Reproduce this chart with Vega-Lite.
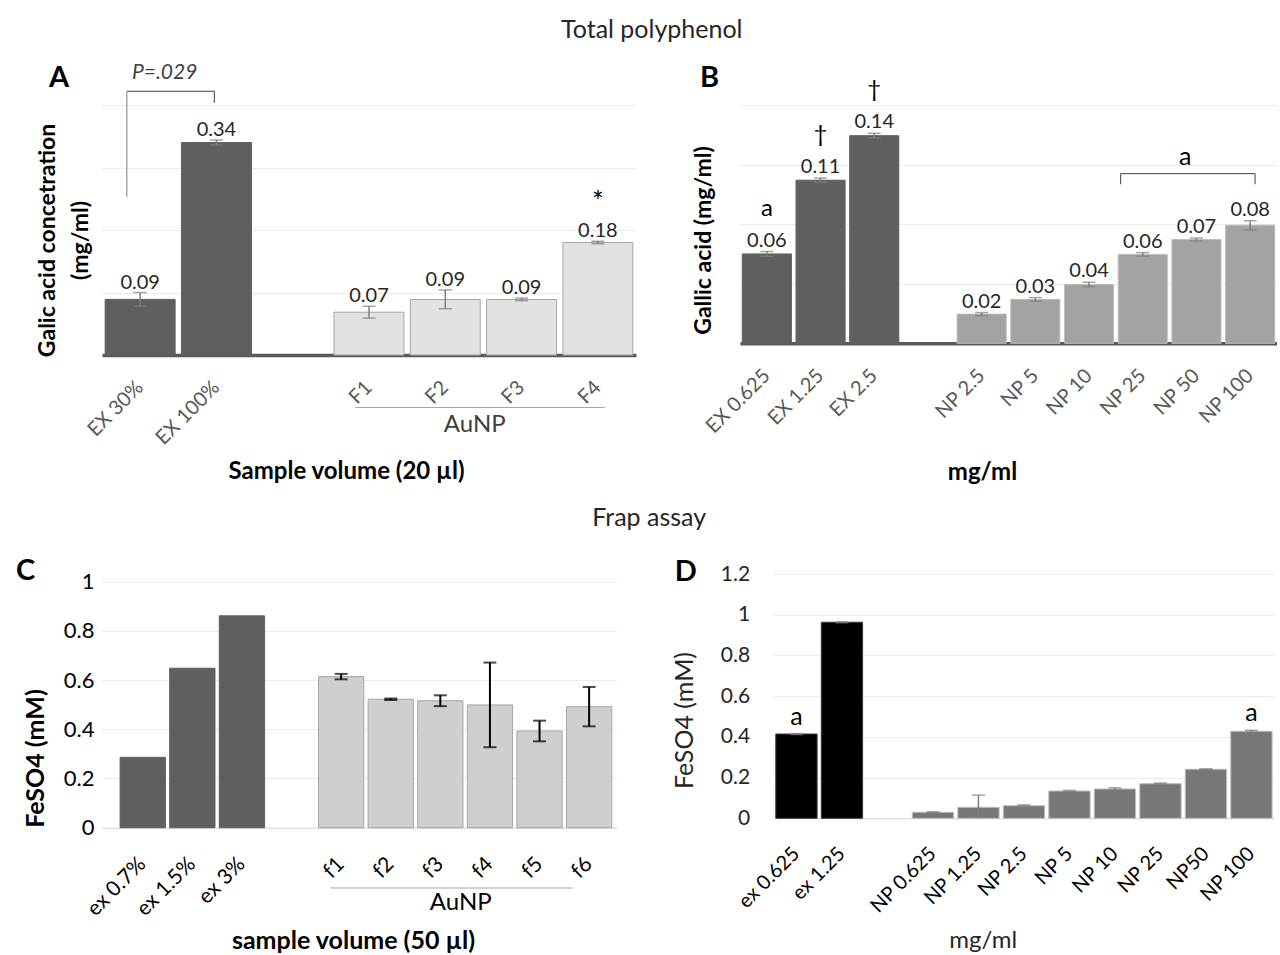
{
  "$schema": "https://vega.github.io/schema/vega-lite/v6.json",
  "padding": {"left": 16, "top": 17, "right": 0, "bottom": 0},
  "config": {
    "font": "Lato",
    "view": {"stroke": null},
    "axis": {"labelFont": "Lato", "titleFont": "Lato"},
    "title": {"font": "Lato"}
  },
  "datasets": {
    "A": [
      {"cat": "EX 30%", "grp": "ex", "value": 0.089, "lo": 0.078, "hi": 0.1, "label": "0.09"},
      {"cat": "EX 100%", "grp": "ex", "value": 0.34, "lo": 0.336, "hi": 0.344, "label": "0.34"},
      {"cat": "F1", "grp": "np", "value": 0.0685, "lo": 0.059, "hi": 0.078, "label": "0.07"},
      {"cat": "F2", "grp": "np", "value": 0.0888, "lo": 0.074, "hi": 0.104, "label": "0.09"},
      {"cat": "F3", "grp": "np", "value": 0.0888, "lo": 0.087, "hi": 0.091, "label": "0.09"},
      {"cat": "F4", "grp": "np", "value": 0.18, "lo": 0.178, "hi": 0.182, "label": "0.18", "sym": "*"}
    ],
    "B": [
      {"cat": "EX 0.625", "grp": "ex", "value": 0.06, "lo": 0.0584, "hi": 0.0616, "label": "0.06", "sym": "a"},
      {"cat": "EX 1.25", "grp": "ex", "value": 0.1095, "lo": 0.108, "hi": 0.111, "label": "0.11", "sym": "†"},
      {"cat": "EX 2.5", "grp": "ex", "value": 0.1394, "lo": 0.138, "hi": 0.141, "label": "0.14", "sym": "†"},
      {"cat": "NP 2.5", "grp": "np", "value": 0.0196, "lo": 0.0186, "hi": 0.0206, "label": "0.02"},
      {"cat": "NP 5", "grp": "np", "value": 0.0295, "lo": 0.0283, "hi": 0.0307, "label": "0.03"},
      {"cat": "NP 10", "grp": "np", "value": 0.0395, "lo": 0.038, "hi": 0.041, "label": "0.04"},
      {"cat": "NP 25", "grp": "np", "value": 0.0597, "lo": 0.0585, "hi": 0.0609, "label": "0.06"},
      {"cat": "NP 50", "grp": "np", "value": 0.0697, "lo": 0.0687, "hi": 0.0707, "label": "0.07"},
      {"cat": "NP 100", "grp": "np", "value": 0.0793, "lo": 0.0763, "hi": 0.0823, "label": "0.08"}
    ],
    "C": [
      {"cat": "ex 0.7%", "grp": "ex", "value": 0.286},
      {"cat": "ex 1.5%", "grp": "ex", "value": 0.648},
      {"cat": "ex 3%", "grp": "ex", "value": 0.861},
      {"cat": "f1", "grp": "np", "value": 0.614, "lo": 0.603, "hi": 0.625},
      {"cat": "f2", "grp": "np", "value": 0.522, "lo": 0.519, "hi": 0.525},
      {"cat": "f3", "grp": "np", "value": 0.516, "lo": 0.494, "hi": 0.538},
      {"cat": "f4", "grp": "np", "value": 0.499, "lo": 0.327, "hi": 0.671},
      {"cat": "f5", "grp": "np", "value": 0.393, "lo": 0.351, "hi": 0.435},
      {"cat": "f6", "grp": "np", "value": 0.492, "lo": 0.412, "hi": 0.572}
    ],
    "D": [
      {"cat": "ex 0.625", "grp": "ex", "value": 0.414, "lo": 0.412, "hi": 0.416, "sym": "a"},
      {"cat": "ex 1.25", "grp": "ex", "value": 0.963, "lo": 0.961, "hi": 0.965},
      {"cat": "NP 0.625", "grp": "np", "value": 0.0295, "lo": 0.027, "hi": 0.032},
      {"cat": "NP 1.25", "grp": "np", "value": 0.054, "lo": -0.006, "hi": 0.114},
      {"cat": "NP 2.5", "grp": "np", "value": 0.062, "lo": 0.058, "hi": 0.066},
      {"cat": "NP 5", "grp": "np", "value": 0.134, "lo": 0.131, "hi": 0.137},
      {"cat": "NP 10", "grp": "np", "value": 0.144, "lo": 0.138, "hi": 0.15},
      {"cat": "NP 25", "grp": "np", "value": 0.17, "lo": 0.167, "hi": 0.173},
      {"cat": "NP50", "grp": "np", "value": 0.241, "lo": 0.239, "hi": 0.243},
      {"cat": "NP 100", "grp": "np", "value": 0.4275, "lo": 0.4225, "hi": 0.4325, "sym": "a"}
    ],
    "one": [{}]
  },
  "bounds": "flush",
  "spacing": 469,
  "resolve": {"scale": {"fill": "independent", "stroke": "independent"}},
  "vconcat": [
    {
      "title": {"text": "Total polyphenol", "fontSize": 25, "fontWeight": "normal", "color": "#262626", "anchor": "middle", "dx": -5, "offset": 19},
      "bounds": "flush",
      "spacing": 104,
      "resolve": {"scale": {"fill": "independent", "stroke": "independent"}},
      "hconcat": [
        {
          "width": 534, "height": 250,
          "title": {"text": "A", "anchor": "start", "frame": "group", "dx": -53, "fontSize": 29, "fontWeight": "bold", "color": "#000000", "offset": -31.5},
          "data": {"name": "A"},
          "encoding": {
            "x": {"field": "cat", "type": "nominal", "sort": null,
              "scale": {"domain": ["EX 30%", "EX 100%", " ", "F1", "F2", "F3", "F4"], "paddingInner": 0.083, "paddingOuter": 0.0415},
              "axis": {"title": "Sample volume (20 µl)", "titleFontSize": 24, "titleFontWeight": "bold", "titleColor": "#000000", "titleX": 244, "titleY": 116.5, "titleBaseline": "middle",
                "labelAngle": -45, "labelAlign": "right", "labelBaseline": "middle", "labelFontSize": 20, "labelColor": "#595959", "labelPadding": 29,
                "ticks": false, "domainColor": "#595959", "domainWidth": 3.5, "grid": false}}
          },
          "layer": [
            {"mark": {"type": "bar", "strokeWidth": 1},
             "encoding": {
               "y": {"field": "value", "type": "quantitative", "scale": {"domain": [0, 0.4], "nice": false},
                 "axis": {"title": ["Galic acid concetration", "(mg/ml)"], "titleFontSize": 23, "titleFontWeight": "bold", "titleColor": "#000000", "titleX": -54.5, "titleY": 135, "titleAlign": "center", "titleBaseline": "middle", "titleLineHeight": 33,
                   "labels": false, "ticks": false, "domain": false, "grid": true, "gridColor": "#ebebeb", "values": [0, 0.05, 0.1, 0.15, 0.2, 0.25, 0.3, 0.35, 0.4]}},
               "fill": {"field": "grp", "type": "nominal", "scale": {"domain": ["ex", "np"], "range": ["#5f5f5f", "#e2e2e2"]}, "legend": null},
               "stroke": {"field": "grp", "type": "nominal", "scale": {"domain": ["ex", "np"], "range": ["#5f5f5f", "#a6a6a6"]}, "legend": null}
             }},
            {"mark": {"type": "rule", "color": "#7f7f7f", "strokeWidth": 1.5},
             "encoding": {"y": {"field": "lo", "type": "quantitative"}, "y2": {"field": "hi"}}},
            {"mark": {"type": "tick", "orient": "horizontal", "size": 13, "thickness": 1.5, "color": "#7f7f7f"},
             "encoding": {"y": {"field": "lo", "type": "quantitative"}}},
            {"mark": {"type": "tick", "orient": "horizontal", "size": 13, "thickness": 1.5, "color": "#7f7f7f"},
             "encoding": {"y": {"field": "hi", "type": "quantitative"}}},
            {"mark": {"type": "text", "fontSize": 20, "dy": -4, "baseline": "alphabetic", "color": "#262626"},
             "encoding": {"y": {"field": "hi", "type": "quantitative"}, "text": {"field": "label"}}},
            {"transform": [{"filter": "isValid(datum.sym)"}],
             "mark": {"type": "text", "fontSize": 28, "dy": -37, "baseline": "middle", "color": "#000000"},
             "encoding": {"y": {"field": "hi", "type": "quantitative"}, "text": {"field": "sym"}}},
            {"data": {"name": "one"}, "mark": {"type": "rule", "color": "#404040", "strokeWidth": 1},
             "encoding": {"x": {"datum": "EX 30%", "bandPosition": 0.31}, "x2": {"datum": "EX 100%", "bandPosition": 0.47}, "y": {"datum": 0.422}}},
            {"data": {"name": "one"}, "mark": {"type": "rule", "color": "#7f7f7f", "strokeWidth": 1},
             "encoding": {"x": {"datum": "EX 30%", "bandPosition": 0.31}, "y": {"datum": 0.422}, "y2": {"datum": 0.253}}},
            {"data": {"name": "one"}, "mark": {"type": "rule", "color": "#404040", "strokeWidth": 1},
             "encoding": {"x": {"datum": "EX 100%", "bandPosition": 0.47}, "y": {"datum": 0.422}, "y2": {"datum": 0.4035}}},
            {"data": {"name": "one"}, "mark": {"type": "text", "fontSize": 21, "fontStyle": "italic", "baseline": "middle", "color": "#404040"},
             "encoding": {"x": {"datum": "EX 30%", "bandPosition": 0.85}, "y": {"datum": 0.452}, "text": {"value": "P=.029"}}},
            {"data": {"name": "one"}, "mark": {"type": "rule", "color": "#a6a6a6", "strokeWidth": 1},
             "encoding": {"x": {"datum": "F1", "bandPosition": 0.3}, "x2": {"datum": "F4", "bandPosition": 0.6}, "y": {"datum": -0.084}}},
            {"data": {"name": "one"}, "mark": {"type": "text", "fontSize": 24, "baseline": "middle", "color": "#404040"},
             "encoding": {"x": {"datum": "F2", "bandPosition": 0.92}, "y": {"datum": -0.112}, "text": {"value": "AuNP"}}}
          ]
        },
        {
          "width": 537, "height": 238.3,
          "title": {"text": "B", "anchor": "start", "frame": "group", "dx": -40, "fontSize": 29, "fontWeight": "bold", "color": "#000000", "offset": -15},
          "data": {"name": "B"},
          "encoding": {
            "x": {"field": "cat", "type": "nominal", "sort": null,
              "scale": {"domain": ["EX 0.625", "EX 1.25", "EX 2.5", " ", "NP 2.5", "NP 5", "NP 10", "NP 25", "NP 50", "NP 100"], "paddingInner": 0.086, "paddingOuter": 0.043},
              "axis": {"title": "mg/ml", "titleFontSize": 24, "titleFontWeight": "bold", "titleColor": "#000000", "titleX": 242, "titleY": 128.7, "titleBaseline": "middle",
                "labelAngle": -45, "labelAlign": "right", "labelBaseline": "middle", "labelFontSize": 20, "labelColor": "#595959", "labelPadding": 29,
                "ticks": false, "domainColor": "#595959", "domainWidth": 3.5, "grid": false}}
          },
          "layer": [
            {"mark": {"type": "bar", "strokeWidth": 1},
             "encoding": {
               "y": {"field": "value", "type": "quantitative", "scale": {"domain": [0, 0.16], "nice": false},
                 "axis": {"title": "Gallic acid (mg/ml)", "titleFontSize": 23, "titleFontWeight": "bold", "titleColor": "#000000", "titleX": -37, "titleY": 135, "titleAlign": "center", "titleBaseline": "middle",
                   "labels": false, "ticks": false, "domain": false, "grid": true, "gridColor": "#ebebeb", "values": [0, 0.04, 0.08, 0.12, 0.16]}},
               "fill": {"field": "grp", "type": "nominal", "scale": {"domain": ["ex", "np"], "range": ["#5f5f5f", "#a3a3a3"]}, "legend": null},
               "stroke": {"field": "grp", "type": "nominal", "scale": {"domain": ["ex", "np"], "range": ["#5f5f5f", "#bdbdbd"]}, "legend": null}
             }},
            {"mark": {"type": "rule", "color": "#7f7f7f", "strokeWidth": 1.5},
             "encoding": {"y": {"field": "lo", "type": "quantitative"}, "y2": {"field": "hi"}}},
            {"mark": {"type": "tick", "orient": "horizontal", "size": 13, "thickness": 1.5, "color": "#7f7f7f"},
             "encoding": {"y": {"field": "lo", "type": "quantitative"}}},
            {"mark": {"type": "tick", "orient": "horizontal", "size": 13, "thickness": 1.5, "color": "#7f7f7f"},
             "encoding": {"y": {"field": "hi", "type": "quantitative"}}},
            {"mark": {"type": "text", "fontSize": 20, "dy": -5, "baseline": "alphabetic", "color": "#262626"},
             "encoding": {"y": {"field": "hi", "type": "quantitative"}, "text": {"field": "label"}}},
            {"transform": [{"filter": "isValid(datum.sym)"}],
             "mark": {"type": "text", "fontSize": 24, "dy": -43, "baseline": "middle", "color": "#000000"},
             "encoding": {"y": {"field": "hi", "type": "quantitative"}, "text": {"field": "sym"}}},
            {"data": {"name": "one"}, "mark": {"type": "rule", "color": "#404040", "strokeWidth": 1},
             "encoding": {"x": {"datum": "NP 25", "bandPosition": 0.05}, "x2": {"datum": "NP 100", "bandPosition": 0.6}, "y": {"datum": 0.1139}}},
            {"data": {"name": "one"}, "mark": {"type": "rule", "color": "#404040", "strokeWidth": 1},
             "encoding": {"x": {"datum": "NP 25", "bandPosition": 0.05}, "y": {"datum": 0.1139}, "y2": {"datum": 0.1068}}},
            {"data": {"name": "one"}, "mark": {"type": "rule", "color": "#404040", "strokeWidth": 1},
             "encoding": {"x": {"datum": "NP 100", "bandPosition": 0.6}, "y": {"datum": 0.1139}, "y2": {"datum": 0.1068}}},
            {"data": {"name": "one"}, "mark": {"type": "text", "fontSize": 25, "baseline": "middle", "color": "#000000"},
             "encoding": {"x": {"datum": "NP 50", "bandPosition": 0.27}, "y": {"datum": 0.125}, "text": {"value": "a"}}}
          ]
        }
      ]
    },
    {
      "title": {"text": "Frap assay", "fontSize": 25, "fontWeight": "normal", "color": "#262626", "anchor": "middle", "dx": 4, "offset": 26},
      "bounds": "flush",
      "spacing": 156.7,
      "resolve": {"scale": {"fill": "independent", "stroke": "independent"}},
      "hconcat": [
        {
          "width": 514.3, "height": 253.7,
          "title": {"text": "C", "anchor": "start", "frame": "group", "dx": -86, "fontSize": 29, "fontWeight": "bold", "color": "#000000", "offset": -15},
          "data": {"name": "C"},
          "encoding": {
            "x": {"field": "cat", "type": "nominal", "sort": null,
              "scale": {"domain": ["ex 0.7%", "ex 1.5%", "ex 3%", " ", "f1", "f2", "f3", "f4", "f5", "f6"], "paddingInner": 0.087, "paddingOuter": 0.228, "align": 0.8},
              "axis": {"title": "sample volume (50 µl)", "titleFontSize": 25, "titleFontWeight": "bold", "titleColor": "#000000", "titleX": 251, "titleY": 112.3, "titleBaseline": "middle",
                "labelAngle": -45, "labelAlign": "right", "labelBaseline": "middle", "labelFontSize": 21, "labelColor": "#000000", "labelPadding": 33,
                "ticks": false, "domainColor": "#d9d9d9", "domainWidth": 1, "grid": false}}
          },
          "layer": [
            {"mark": {"type": "bar", "strokeWidth": 1},
             "encoding": {
               "y": {"field": "value", "type": "quantitative", "scale": {"domain": [0, 1.031], "nice": false},
                 "axis": {"title": "FeSO4 (mM)", "titleFontSize": 25, "titleFontWeight": "bold", "titleColor": "#000000", "titleX": -67, "titleY": 184, "titleAlign": "center", "titleBaseline": "middle",
                   "labelFontSize": 22, "labelColor": "#000000", "labelPadding": 8, "ticks": false, "domain": false, "grid": true, "gridColor": "#ebebeb", "values": [0, 0.2, 0.4, 0.6, 0.8, 1], "format": "~g"}},
               "fill": {"field": "grp", "type": "nominal", "scale": {"domain": ["ex", "np"], "range": ["#5f5f5f", "#cfcfcf"]}, "legend": null},
               "stroke": {"field": "grp", "type": "nominal", "scale": {"domain": ["ex", "np"], "range": ["#5f5f5f", "#a6a6a6"]}, "legend": null}
             }},
            {"transform": [{"filter": "isValid(datum.lo)"}],
             "mark": {"type": "rule", "color": "#000000", "strokeWidth": 2},
             "encoding": {"y": {"field": "lo", "type": "quantitative"}, "y2": {"field": "hi"}}},
            {"transform": [{"filter": "isValid(datum.lo)"}],
             "mark": {"type": "tick", "orient": "horizontal", "size": 13, "thickness": 2, "color": "#000000"},
             "encoding": {"y": {"field": "lo", "type": "quantitative"}}},
            {"transform": [{"filter": "isValid(datum.hi)"}],
             "mark": {"type": "tick", "orient": "horizontal", "size": 13, "thickness": 2, "color": "#000000"},
             "encoding": {"y": {"field": "hi", "type": "quantitative"}}},
            {"data": {"name": "one"}, "mark": {"type": "rule", "color": "#a6a6a6", "strokeWidth": 1},
             "encoding": {"x": {"datum": "f1", "bandPosition": 0.26}, "x2": {"datum": "f6", "bandPosition": 0.14}, "y": {"datum": -0.245}}},
            {"data": {"name": "one"}, "mark": {"type": "text", "fontSize": 24, "baseline": "middle", "color": "#000000"},
             "encoding": {"x": {"datum": "f3", "bandPosition": 0.95}, "y": {"datum": -0.306}, "text": {"value": "AuNP"}}}
          ]
        },
        {
          "width": 500.5, "height": 244.3,
          "title": {"text": "D", "anchor": "start", "frame": "group", "dx": -99, "fontSize": 29, "fontWeight": "bold", "color": "#000000", "offset": -24},
          "data": {"name": "D"},
          "encoding": {
            "x": {"field": "cat", "type": "nominal", "sort": null,
              "scale": {"domain": ["ex 0.625", "ex 1.25", " ", "NP 0.625", "NP 1.25", "NP 2.5", "NP 5", "NP 10", "NP 25", "NP50", "NP 100"], "paddingInner": 0.092, "paddingOuter": 0.046},
              "axis": {"title": "mg/ml", "titleFontSize": 24, "titleFontWeight": "normal", "titleColor": "#262626", "titleX": 209, "titleY": 121.7, "titleBaseline": "middle",
                "labelAngle": -45, "labelAlign": "right", "labelBaseline": "middle", "labelFontSize": 20, "labelColor": "#000000", "labelPadding": 32,
                "ticks": false, "domainColor": "#d9d9d9", "domainWidth": 1, "grid": false}}
          },
          "layer": [
            {"mark": {"type": "bar", "strokeWidth": 1},
             "encoding": {
               "y": {"field": "value", "type": "quantitative", "scale": {"domain": [0, 1.2], "nice": false},
                 "axis": {"title": "FeSO4 (mM)", "titleFontSize": 25, "titleFontWeight": "normal", "titleColor": "#262626", "titleX": -89, "titleY": 146, "titleAlign": "center", "titleBaseline": "middle",
                   "labelFontSize": 21, "labelColor": "#262626", "labelPadding": 24, "ticks": false, "domain": false, "grid": true, "gridColor": "#ebebeb", "values": [0, 0.2, 0.4, 0.6, 0.8, 1, 1.2], "format": "~g"}},
               "fill": {"field": "grp", "type": "nominal", "scale": {"domain": ["ex", "np"], "range": ["#000000", "#777777"]}, "legend": null},
               "stroke": {"field": "grp", "type": "nominal", "scale": {"domain": ["ex", "np"], "range": ["#3a3a3a", "#bdbdbd"]}, "legend": null}
             }},
            {"mark": {"type": "rule", "color": "#7f7f7f", "strokeWidth": 1.5, "clip": true},
             "encoding": {"y": {"field": "lo", "type": "quantitative"}, "y2": {"field": "hi"}}},
            {"mark": {"type": "tick", "orient": "horizontal", "size": 13, "thickness": 1.5, "color": "#7f7f7f", "clip": true},
             "encoding": {"y": {"field": "lo", "type": "quantitative"}}},
            {"mark": {"type": "tick", "orient": "horizontal", "size": 13, "thickness": 1.5, "color": "#7f7f7f"},
             "encoding": {"y": {"field": "hi", "type": "quantitative"}}},
            {"transform": [{"filter": "isValid(datum.sym)"}],
             "mark": {"type": "text", "fontSize": 25, "dy": -17, "baseline": "middle", "color": "#000000"},
             "encoding": {"y": {"field": "hi", "type": "quantitative"}, "text": {"field": "sym"}}}
          ]
        }
      ]
    }
  ]
}
